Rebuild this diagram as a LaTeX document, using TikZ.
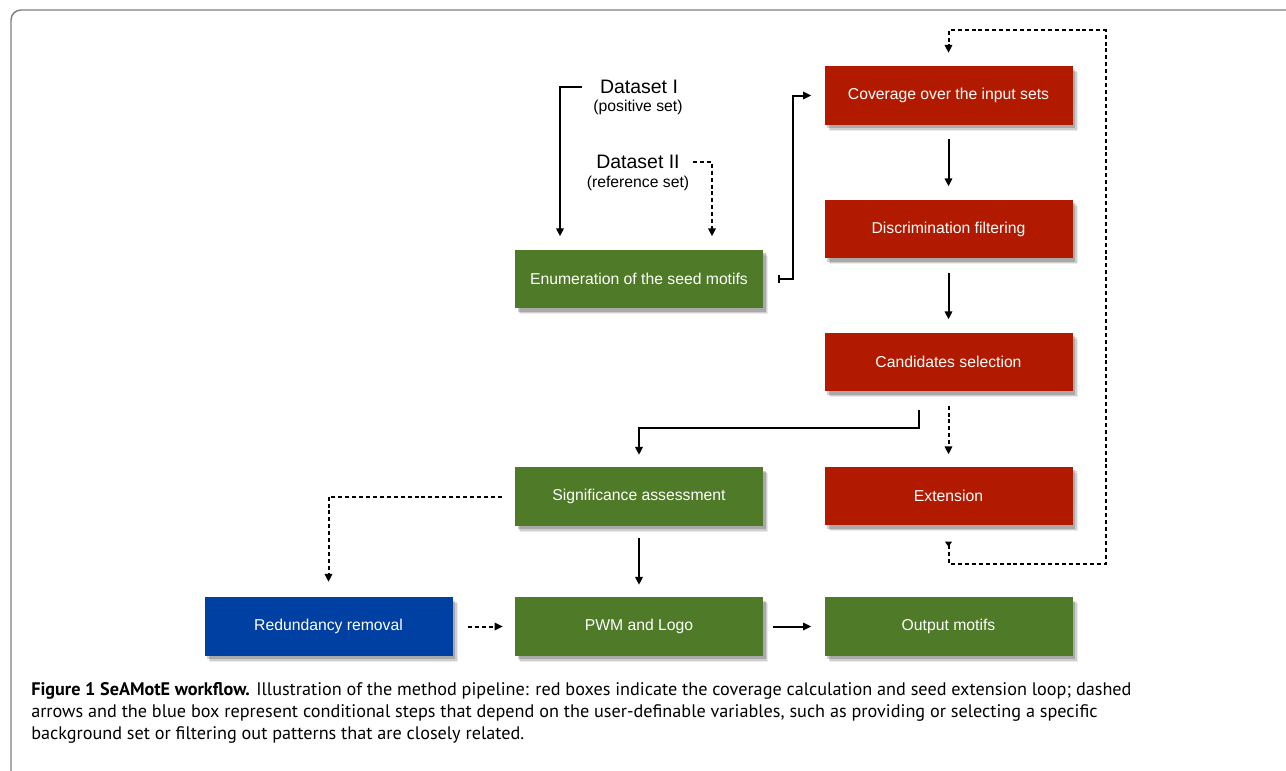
\documentclass[tikz,border=0pt]{standalone}
\usepackage{fontspec}
\setmainfont{Liberation Sans}
\newfontfamily\capfont{PT Sans}
\usetikzlibrary{arrows.meta,calc,shadows}
\definecolor{boxred}{RGB}{178,26,0}
\definecolor{boxgreen}{RGB}{79,122,40}
\definecolor{boxblue}{RGB}{0,64,162}
\definecolor{framegray}{RGB}{128,128,128}
\tikzset{
  box/.style={rectangle, minimum width=186pt, minimum height=44pt, inner sep=0pt,
    text=white, font=\fontsize{11.8pt}{14pt}\selectfont,
    drop shadow={shadow xshift=4pt, shadow yshift=-4.5pt, fill=black, opacity=0.08},
    drop shadow={shadow xshift=3pt, shadow yshift=-3.5pt, fill=black, opacity=0.12},
    drop shadow={shadow xshift=2pt, shadow yshift=-2.5pt, fill=black, opacity=0.18}},
  redbox/.style={box, fill=boxred},
  greenbox/.style={box, fill=boxgreen},
  bluebox/.style={box, fill=boxblue},
  conn/.style={line width=1.5pt, -{Triangle[length=6pt,width=5.5pt]}},
  dsh/.style={dash pattern=on 3pt off 2.2pt},
  lbl/.style={inner sep=0pt}
}
\begin{document}
\begin{tikzpicture}[x=0.75pt,y=-0.75pt]
\useasboundingbox (0,0) rectangle (1286,771);
% frame
\draw[framegray, line width=1.1pt, rounded corners=7.5pt] (11,771) -- (11,10) -- (1286,10);

% boxes
\node[redbox] (cov) at (948.5,95.5) {Coverage over the input sets};
\node[redbox] (disc) at (948.5,229) {Discrimination filtering};
\node[redbox] (cand) at (948.5,362) {Candidates selection};
\node[redbox] (ext) at (948.5,496) {Extension};
\node[greenbox] (out) at (948.5,626.5) {Output motifs};
\node[greenbox] (enum) at (639,279) {Enumeration of the seed motifs};
\node[greenbox] (sig) at (639,496.5) {Significance assessment};
\node[greenbox] (pwm) at (639,626.5) {PWM and Logo};
\node[bluebox] (red) at (328.5,626.5) {Redundancy removal};

% datasets
\node[lbl, font=\fontsize{14.6pt}{16pt}\selectfont] (d1) at (639,87) {Dataset I};
\node[lbl, font=\fontsize{11.8pt}{14pt}\selectfont] (d1s) at (638,107) {(positive set)};
\node[lbl, font=\fontsize{14.6pt}{16pt}\selectfont] (d2) at (638,162) {Dataset II};
\node[lbl, font=\fontsize{11.8pt}{14pt}\selectfont] (d2s) at (638,183) {(reference set)};

% connectors
\draw[conn] ($(d1.west)+(-18,0)$) -| ($(enum.north)+(-79,-13)$);
\draw[conn, dsh] ($(d2.east)+(13,0)$) -| ($(enum.north)+(73,-13)$);
\draw[line width=1.5pt, {Bar[width=6pt]}-{Triangle[length=6pt,width=5.5pt]}] ($(enum.east)+(15,0)$) -- ++(15,0) |- ($(cov.west)+(-13,0)$);
\draw[conn] ($(cov.south)+(0,14)$) -- ($(disc.north)+(0,-13)$);
\draw[conn] ($(disc.south)+(0,14)$) -- ($(cand.north)+(0,-13)$);
\draw[conn] ($(cand.south)+(-30,18)$) -- ++(0,18) -| ($(sig.north)+(0,-12)$);
\draw[conn, dsh] ($(cand.south)+(0,14)$) -- ($(ext.north)+(0,-12)$);
\draw[line width=1.5pt, dsh, {Triangle[reversed,length=4pt,width=5pt]}-{Triangle[length=6pt,width=5.5pt]}] ($(ext.south)+(0,16)$) -- ++(0,22) -- ++(157,0) |- ($(cov.north)+(0,-36)$) -- ($(cov.north)+(0,-13)$);
\draw[conn] ($(sig.south)+(0,12)$) -- ($(pwm.north)+(0,-12)$);
\draw[conn, dsh] ($(sig.west)+(-13,0)$) -| ($(red.north)+(0,-15)$);
\draw[conn, dsh] ($(red.east)+(15,0)$) -- ($(pwm.west)+(-12,0)$);
\draw[conn] ($(pwm.east)+(10,0)$) -- ($(out.west)+(-13,0)$);

% caption
\begin{scope}[every node/.style={anchor=base west, inner sep=0pt, font=\capfont\fontsize{13.65pt}{16pt}\selectfont}]
\node (c1) at (31,695) {\textbf{Figure 1 SeAMotE workflow.} Illustration of the method pipeline: red boxes indicate the coverage calculation and seed extension loop; dashed};
\node (c2) at (31,717) {arrows and the blue box represent conditional steps that depend on the user-definable variables, such as providing or selecting a specific};
\node (c3) at (31,739) {background set or filtering out patterns that are closely related.};
\end{scope}
\end{tikzpicture}
\end{document}
